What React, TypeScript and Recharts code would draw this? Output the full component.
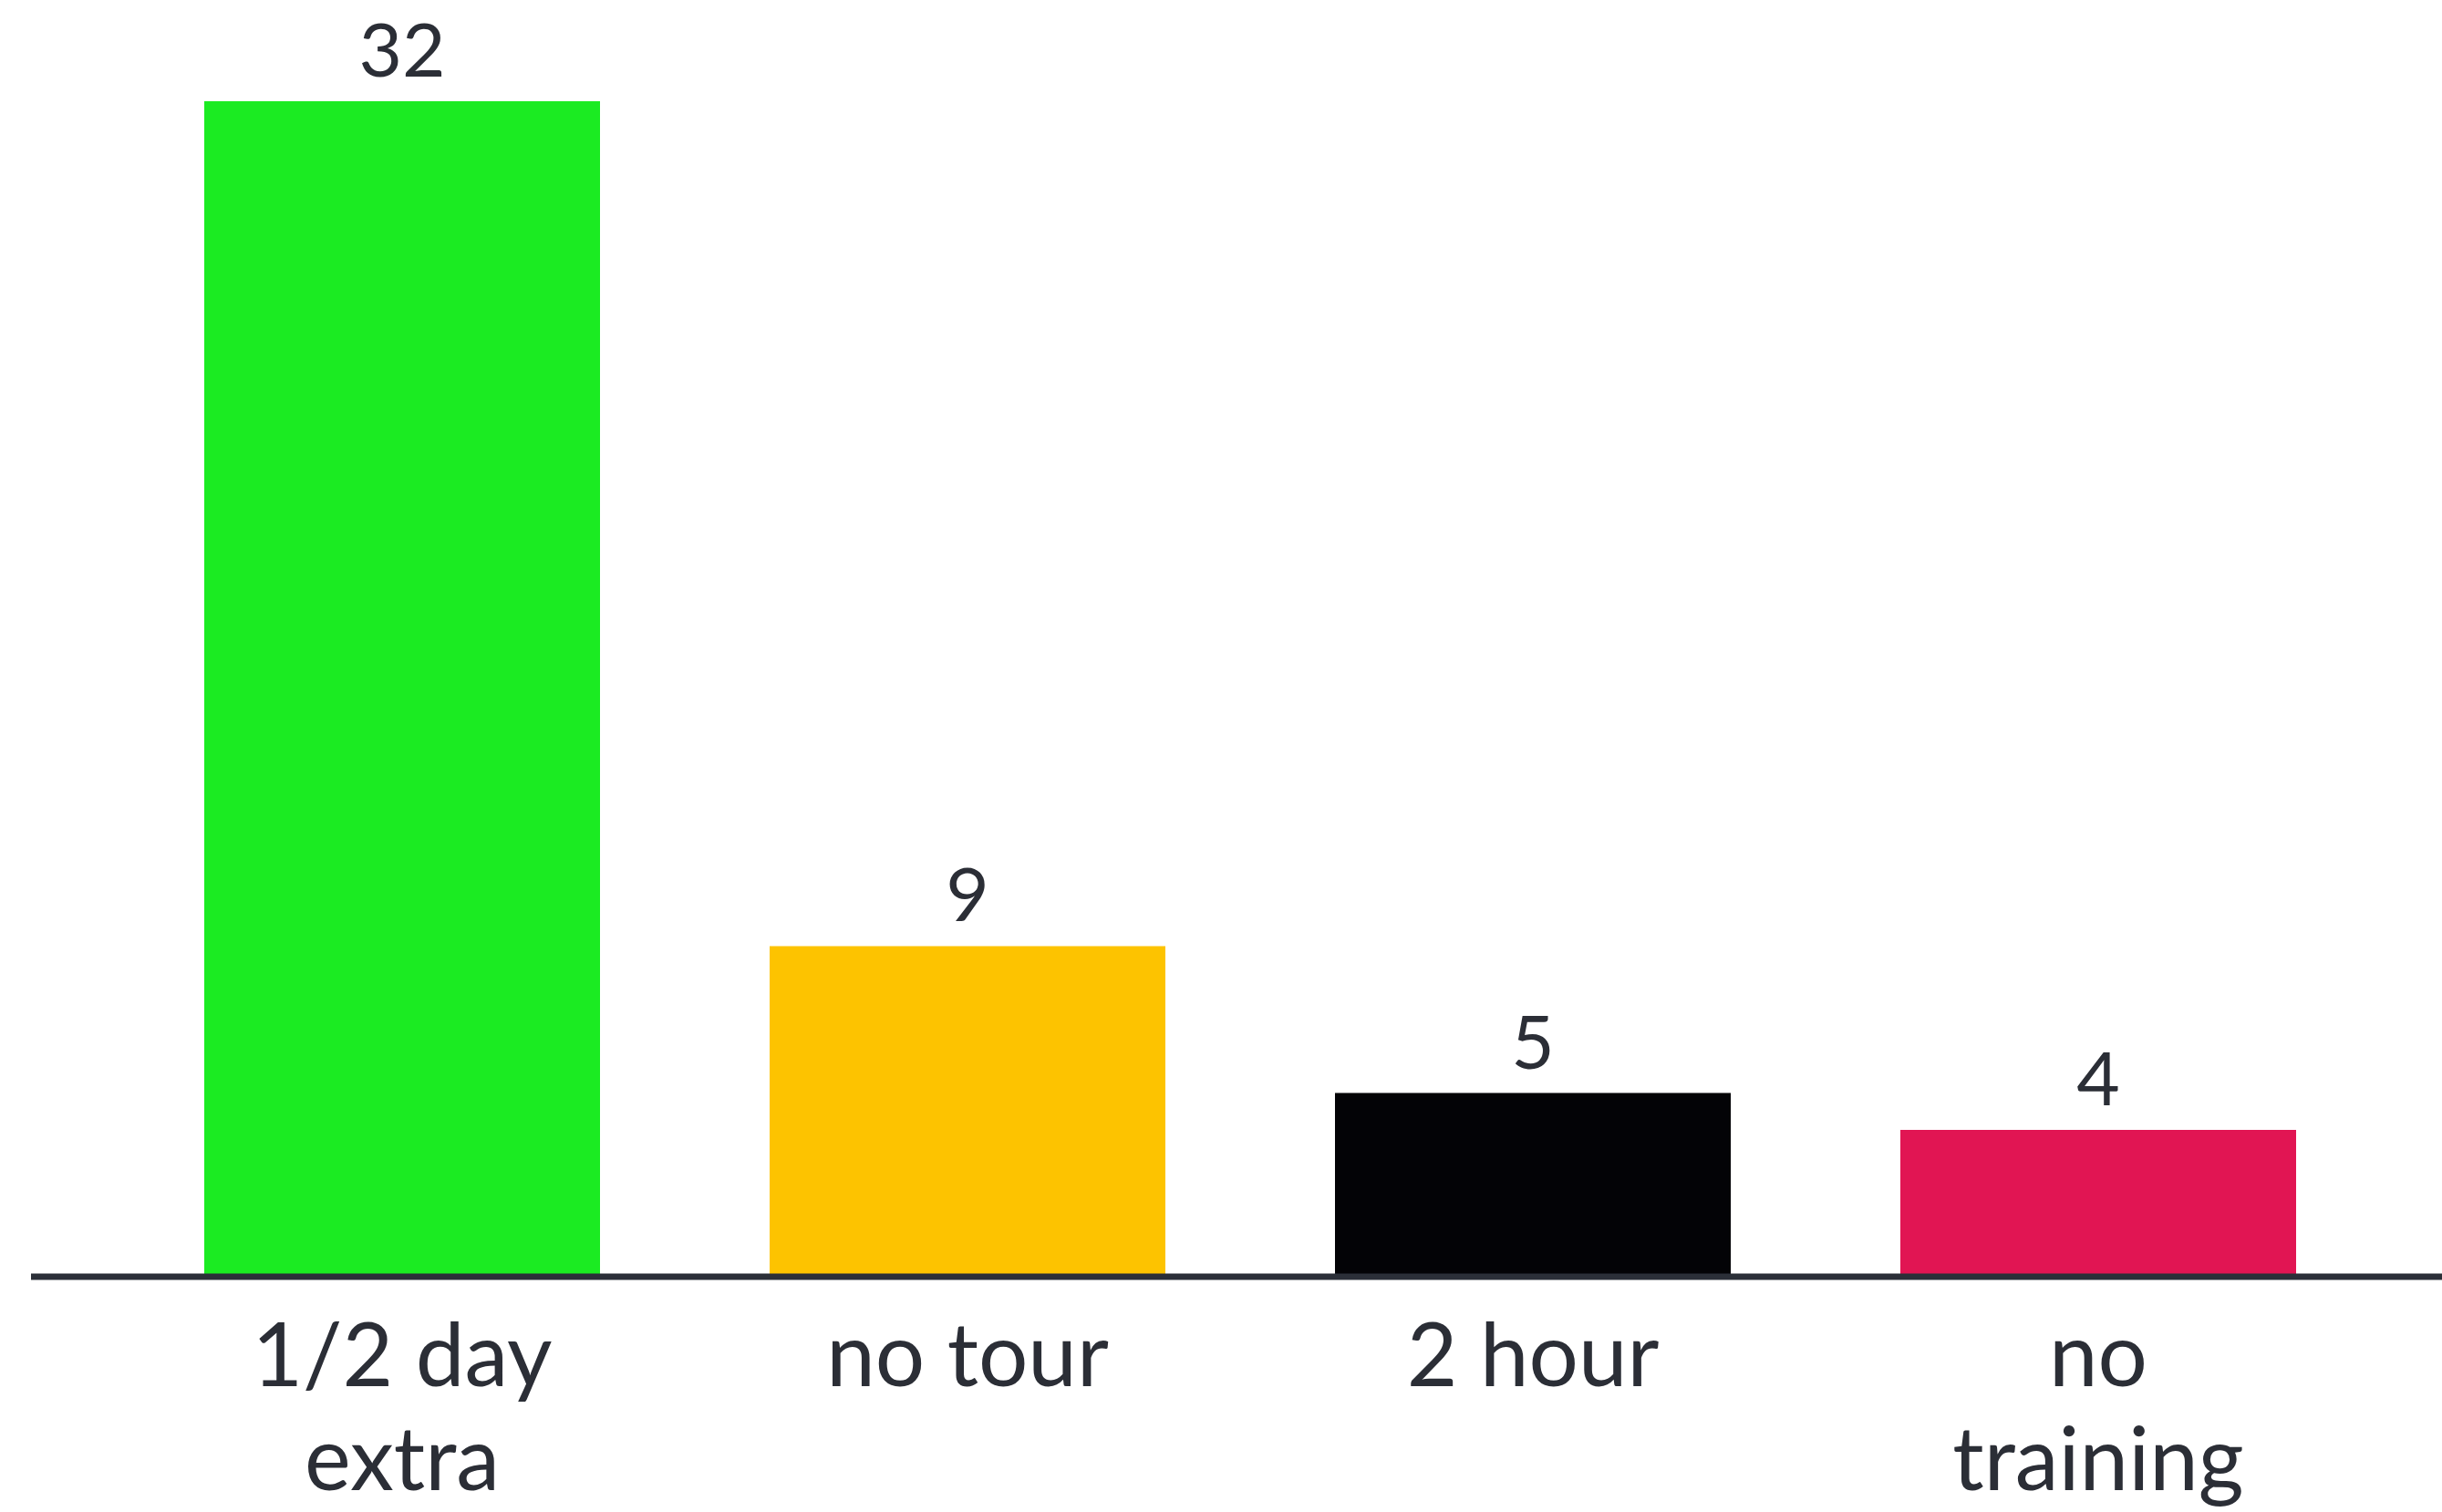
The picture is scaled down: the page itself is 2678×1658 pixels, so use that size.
import { BarChart, Bar, XAxis, YAxis, Cell, LabelList } from 'recharts';

// categories and values
const categories = ['1/2 day\nextra', 'no tour', '2 hour', 'no\ntraining'];
const counts = [32, 9, 5, 4];
const barColors = ['#1beb22', '#fdc300', '#030306', '#e11553'];

const data = categories.map((name, i) => ({ name, value: counts[i] }));

const TEXT = '#2b2e36';

function CategoryTick(props: any) {
  const { x, y, payload } = props;
  const lines = String(payload.value).split('\n');
  return (
    <text
      x={x}
      y={y}
      textAnchor="middle"
      fill={TEXT}
      fontSize={96}
      fontFamily="Lato, sans-serif"
    >
      {lines.map((line, i) => (
        <tspan key={i} x={x} y={y + 112 + i * 114}>
          {line}
        </tspan>
      ))}
    </text>
  );
}

export default function App() {
  return (
    <div style={{ position: 'absolute', left: 0, top: 0, width: 2678, height: 1658, background: '#ffffff' }}>
      <BarChart
        width={2678}
        height={1658}
        data={data}
        margin={{ top: 111, right: 0, bottom: 0, left: 34 }}
        barCategoryGap="15%"
      >
        <XAxis
          dataKey="name"
          height={258}
          padding={{ left: 97, right: 67 }}
          axisLine={{ stroke: '#2b2f38', strokeWidth: 7 }}
          tickLine={false}
          interval={0}
          tick={<CategoryTick />}
        />
        <YAxis hide domain={[0, 32]} />
        <Bar dataKey="value" isAnimationActive={false}>
          {data.map((entry, index) => (
            <Cell key={`cell-${index}`} fill={barColors[index]} />
          ))}
          <LabelList
            dataKey="value"
            position="top"
            offset={27}
            fill={TEXT}
            fontSize={82}
            fontFamily="Lato, sans-serif"
          />
        </Bar>
      </BarChart>
    </div>
  );
}
